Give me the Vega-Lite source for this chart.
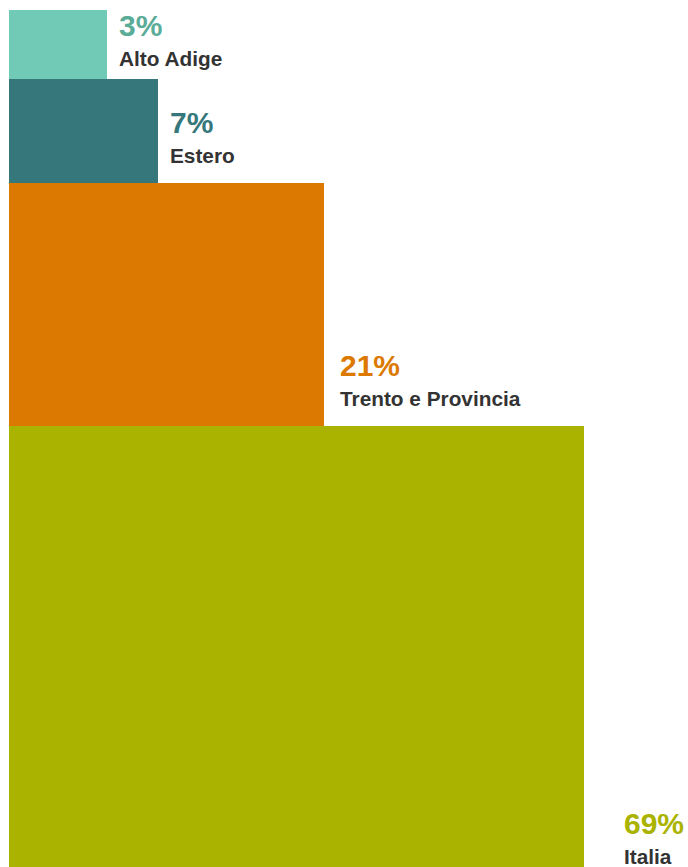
{
  "$schema": "https://vega.github.io/schema/vega-lite/v6.json",
  "width": 688,
  "height": 867,
  "padding": 0,
  "autosize": {"type": "none"},
  "background": "white",
  "config": {"view": {"stroke": null}},
  "data": {
    "values": [
      {"area": "Alto Adige", "pct": 3, "order": 1, "w": 98, "h": 69},
      {"area": "Estero", "pct": 7, "order": 2, "w": 149, "h": 104},
      {"area": "Trento e Provincia", "pct": 21, "order": 3, "w": 315, "h": 243},
      {"area": "Italia", "pct": 69, "order": 4, "w": 575, "h": 458}
    ]
  },
  "transform": [
    {"stack": "h", "groupby": [], "sort": [{"field": "order", "order": "ascending"}], "as": ["y0", "y1"]},
    {"calculate": "max(datum.y0 + 56, datum.y1 - 20)", "as": "ly"},
    {"calculate": "datum.w + (datum.w > 500 ? 40 : datum.w > 300 ? 16 : 12)", "as": "lx"},
    {"calculate": "datum.pct + '%'", "as": "pctLabel"}
  ],
  "layer": [
    {
      "mark": {"type": "rect"},
      "encoding": {
        "x": {"field": "w", "type": "quantitative", "scale": {"domain": [-9, 679], "nice": false, "zero": false}, "axis": null},
        "x2": {"datum": 0},
        "y": {"field": "y0", "type": "quantitative", "scale": {"domain": [-10, 857], "reverse": true, "nice": false, "zero": false}, "axis": null},
        "y2": {"field": "y1"},
        "color": {
          "field": "area", "type": "nominal", "legend": null,
          "scale": {"domain": ["Alto Adige", "Estero", "Trento e Provincia", "Italia"], "range": ["#71cab6", "#36777b", "#dc7900", "#aab300"]}
        }
      }
    },
    {
      "mark": {"type": "text", "align": "left", "baseline": "alphabetic", "font": "Liberation Sans", "fontWeight": "bold", "fontSize": 30, "dy": -30},
      "encoding": {
        "x": {"field": "lx", "type": "quantitative", "scale": {"domain": [-9, 679], "nice": false, "zero": false}, "axis": null},
        "y": {"field": "ly", "type": "quantitative", "scale": {"domain": [-10, 857], "reverse": true, "nice": false, "zero": false}, "axis": null},
        "text": {"field": "pctLabel"},
        "color": {
          "field": "area", "type": "nominal", "legend": null,
          "scale": {"domain": ["Alto Adige", "Estero", "Trento e Provincia", "Italia"], "range": ["#5aac98", "#36777b", "#dc7900", "#aab300"]}
        }
      }
    },
    {
      "mark": {"type": "text", "align": "left", "baseline": "alphabetic", "font": "Liberation Sans", "fontWeight": "bold", "fontSize": 20.8, "color": "#333333"},
      "encoding": {
        "x": {"field": "lx", "type": "quantitative", "scale": {"domain": [-9, 679], "nice": false, "zero": false}, "axis": null},
        "y": {"field": "ly", "type": "quantitative", "scale": {"domain": [-10, 857], "reverse": true, "nice": false, "zero": false}, "axis": null},
        "text": {"field": "area"}
      }
    }
  ],
  "resolve": {"scale": {"color": "independent"}}
}
